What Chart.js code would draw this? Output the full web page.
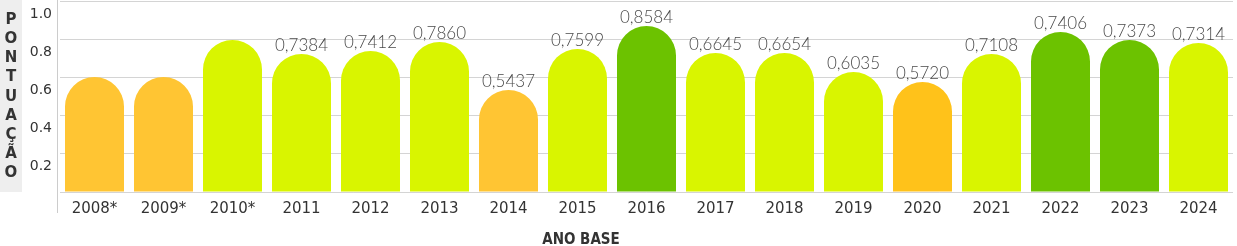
<!DOCTYPE html>
<html>
<head>
<meta charset="utf-8">
<script src="https://cdn.jsdelivr.net/npm/chart.js@4"></script>
<style>
  html, body { margin: 0; padding: 0; background: #fff; }
  #wrap { width: 1237px; height: 246px; position: relative; }
</style>
</head>
<body>
<div id="wrap"><canvas id="scoreChart"></canvas></div>
<script>
// years on the x axis
const years = ['2008*', '2009*', '2010*', '2011', '2012', '2013', '2014', '2015', '2016',
  '2017', '2018', '2019', '2020', '2021', '2022', '2023', '2024'];

// bar heights as drawn (the infographic does not scale them exactly to the printed scores)
const barHeights = [0.602, 0.602, 0.796, 0.723, 0.738, 0.785, 0.534, 0.749, 0.869,
  0.728, 0.728, 0.628, 0.576, 0.723, 0.838, 0.796, 0.780];

// printed scores above the bars (none for the starred years)
const scoreLabels = ['', '', '', '0,7384', '0,7412', '0,7860', '0,5437', '0,7599', '0,8584',
  '0,6645', '0,6654', '0,6035', '0,5720', '0,7108', '0,7406', '0,7373', '0,7314'];

const yTicks = [0, 0.2, 0.4, 0.6, 0.8, 1.0];

const ORANGE = '#ffc533';
const AMBER = '#ffc21a';
const LIME = '#d9f500';
const GREEN = '#6cc200';
const barColors = [ORANGE, ORANGE, LIME, LIME, LIME, LIME, ORANGE, LIME, GREEN,
  LIME, LIME, LIME, AMBER, LIME, GREEN, GREEN, LIME];

// side title box, axis line, value labels and x title
const extras = {
  id: 'extras',
  afterDraw(chart) {
    const ctx = chart.ctx;
    const area = chart.chartArea;
    ctx.save();

    ctx.fillStyle = '#eeeeee';
    ctx.fillRect(0, 0, 22, area.bottom);
    ctx.fillStyle = '#333';
    ctx.font = 'bold 15px "DejaVu Sans"';
    ctx.textAlign = 'center';
    ctx.textBaseline = 'middle';
    'PONTUAÇÃO'.split('').forEach((ch, i) => {
      ctx.fillText(ch, 11, 20 + i * 19.2);
    });

    ctx.strokeStyle = '#cccccc';
    ctx.lineWidth = 1;
    ctx.beginPath();
    ctx.moveTo(57.5, 0);
    ctx.lineTo(57.5, 213);
    ctx.stroke();

    const meta = chart.getDatasetMeta(0);
    ctx.font = '300 17px Lato';
    ctx.fillStyle = '#4a4a4a';
    ctx.textBaseline = 'alphabetic';
    meta.data.forEach((bar, i) => {
      if (scoreLabels[i]) ctx.fillText(scoreLabels[i], bar.x, bar.y - 3);
    });

    ctx.font = 'bold 15px "DejaVu Sans Condensed", "DejaVu Sans"';
    ctx.fillStyle = '#333';
    ctx.fillText('ANO BASE', 581, 244);
    ctx.restore();
  }
};

new Chart(document.getElementById('scoreChart'), {
  type: 'bar',
  data: {
    labels: years,
    datasets: [{
      data: barHeights,
      backgroundColor: barColors,
      borderWidth: 0,
      borderRadius: { topLeft: 30, topRight: 30, bottomLeft: 0, bottomRight: 0 },
      borderSkipped: 'bottom',
      barPercentage: 0.855,
      categoryPercentage: 1
    }]
  },
  options: {
    responsive: true,
    maintainAspectRatio: false,
    animation: false,
    layout: { padding: { left: 22, top: 1, right: 4, bottom: 0 } },
    plugins: {
      legend: { display: false },
      tooltip: { enabled: false }
    },
    scales: {
      x: {
        grid: { display: false },
        border: { display: false },
        ticks: {
          color: '#333',
          font: { family: 'DejaVu Sans', size: 15 },
          padding: 0
        },
        afterFit(scale) {
          scale.height = 54;
          scale.paddingLeft = 0;
          scale.paddingRight = 0;
        }
      },
      y: {
        min: 0,
        max: 1,
        z: 1,
        afterBuildTicks(scale) { scale.ticks = yTicks.map(v => ({ value: v })); },
        grid: { color: 'rgba(0,0,0,0.17)', drawTicks: false },
        border: { display: false },
        ticks: {
          color: '#333',
          font: { family: 'DejaVu Sans', size: 14 },
          padding: 8,
          labelOffset: 13,
          callback: v => (v === 0 ? '' : v.toFixed(1))
        },
        afterFit(scale) {
          scale.width = 38;
          scale.paddingTop = 0;
          scale.paddingBottom = 0;
        }
      }
    }
  },
  plugins: [extras]
});
</script>
</body>
</html>
